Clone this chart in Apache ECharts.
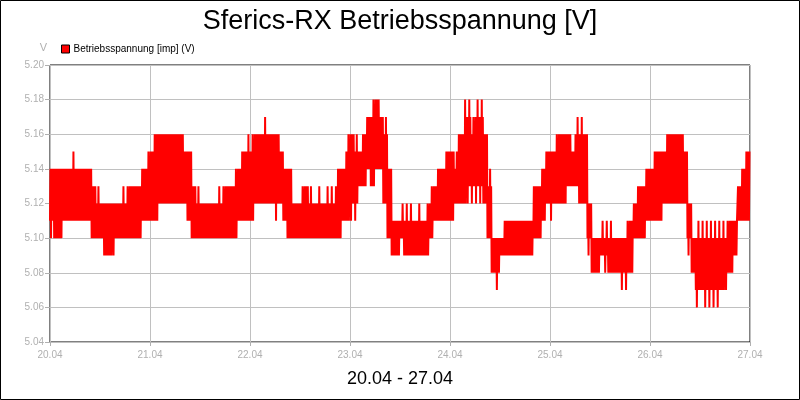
<!DOCTYPE html>
<html>
<head>
<meta charset="utf-8">
<script src="https://cdn.jsdelivr.net/npm/echarts@6/dist/echarts.min.js"></script>
<style>
  html, body { margin: 0; padding: 0; background: #fff; }
  #chart { width: 800px; height: 400px; }
</style>
</head>
<body>
<div id="chart"></div>
<script>
// tick labels on the time axis (one per day)
var dayLabels = ['20.04', '21.04', '22.04', '23.04', '24.04', '25.04', '26.04', '27.04'];

// hourly readings, 24 per day, 20.04 .. 26.04
// lo/hi = extremes in the hour, coreLo/coreHi = dense band
var lo = [
  5.10,5.10,5.10,5.11,5.11,5.11,5.11,5.11,5.11,5.11,5.10,5.10,5.10,5.09,5.09,5.09,5.10,5.10,5.10,5.10,5.10,5.10,5.11,5.11,
  5.11,5.11,5.12,5.12,5.12,5.12,5.12,5.12,5.12,5.11,5.10,5.10,5.10,5.10,5.10,5.10,5.10,5.10,5.10,5.10,5.10,5.11,5.11,5.11,
  5.11,5.12,5.12,5.12,5.12,5.12,5.11,5.12,5.11,5.10,5.10,5.10,5.10,5.10,5.10,5.10,5.10,5.10,5.10,5.10,5.10,5.10,5.11,5.11,
  5.11,5.11,5.13,5.13,5.14,5.13,5.14,5.14,5.12,5.10,5.09,5.09,5.10,5.09,5.09,5.09,5.09,5.09,5.09,5.10,5.11,5.11,5.11,5.11,
  5.11,5.12,5.12,5.12,5.12,5.12,5.12,5.12,5.12,5.10,5.08,5.07,5.09,5.09,5.09,5.09,5.09,5.09,5.09,5.09,5.10,5.10,5.11,5.12,
  5.11,5.12,5.12,5.12,5.13,5.13,5.13,5.12,5.12,5.09,5.08,5.08,5.09,5.08,5.08,5.08,5.08,5.07,5.07,5.08,5.10,5.10,5.10,5.11,
  5.11,5.11,5.11,5.12,5.12,5.12,5.12,5.12,5.12,5.09,5.08,5.06,5.07,5.06,5.06,5.06,5.06,5.07,5.07,5.08,5.09,5.11,5.11,5.11
];
var coreLo = [
  5.11,5.10,5.10,5.11,5.11,5.11,5.11,5.11,5.11,5.11,5.10,5.10,5.10,5.09,5.09,5.10,5.10,5.10,5.10,5.10,5.10,5.10,5.11,5.11,
  5.11,5.11,5.12,5.12,5.12,5.12,5.12,5.12,5.12,5.11,5.10,5.10,5.10,5.10,5.10,5.10,5.10,5.10,5.10,5.10,5.10,5.11,5.11,5.11,
  5.11,5.12,5.12,5.12,5.12,5.12,5.12,5.12,5.11,5.10,5.10,5.10,5.10,5.10,5.10,5.10,5.10,5.10,5.10,5.10,5.10,5.10,5.11,5.11,
  5.12,5.12,5.13,5.13,5.14,5.13,5.14,5.14,5.12,5.10,5.09,5.09,5.10,5.09,5.09,5.09,5.09,5.09,5.09,5.10,5.11,5.11,5.11,5.11,
  5.11,5.12,5.12,5.12,5.13,5.13,5.13,5.13,5.12,5.10,5.08,5.08,5.09,5.09,5.09,5.09,5.09,5.09,5.09,5.09,5.10,5.10,5.11,5.12,
  5.12,5.12,5.12,5.12,5.13,5.13,5.13,5.12,5.12,5.10,5.08,5.08,5.09,5.09,5.08,5.08,5.08,5.08,5.08,5.08,5.10,5.10,5.10,5.11,
  5.11,5.11,5.11,5.12,5.12,5.12,5.12,5.12,5.12,5.10,5.08,5.07,5.07,5.07,5.07,5.07,5.07,5.07,5.08,5.08,5.09,5.11,5.11,5.11
];
var coreHi = [
  5.14,5.14,5.14,5.14,5.14,5.14,5.14,5.14,5.14,5.14,5.13,5.12,5.12,5.12,5.12,5.12,5.12,5.12,5.12,5.13,5.13,5.13,5.14,5.14,
  5.15,5.16,5.16,5.16,5.16,5.16,5.16,5.16,5.15,5.15,5.13,5.12,5.12,5.12,5.12,5.12,5.12,5.12,5.13,5.13,5.13,5.14,5.15,5.15,
  5.15,5.16,5.16,5.16,5.16,5.16,5.16,5.15,5.14,5.14,5.12,5.12,5.12,5.13,5.12,5.12,5.12,5.12,5.12,5.12,5.12,5.14,5.14,5.15,
  5.16,5.15,5.15,5.16,5.17,5.17,5.18,5.17,5.16,5.14,5.11,5.11,5.11,5.11,5.11,5.11,5.11,5.11,5.11,5.12,5.13,5.14,5.14,5.15,
  5.15,5.14,5.16,5.16,5.17,5.16,5.17,5.17,5.16,5.13,5.10,5.10,5.10,5.11,5.11,5.11,5.11,5.11,5.11,5.11,5.13,5.13,5.14,5.15,
  5.15,5.15,5.16,5.16,5.16,5.15,5.16,5.16,5.16,5.12,5.10,5.10,5.10,5.10,5.10,5.10,5.10,5.10,5.10,5.11,5.12,5.13,5.13,5.14,
  5.14,5.15,5.15,5.15,5.16,5.16,5.16,5.16,5.15,5.12,5.10,5.10,5.10,5.10,5.10,5.10,5.10,5.10,5.10,5.11,5.11,5.13,5.14,5.15
];
var hi = [
  5.14,5.14,5.14,5.14,5.14,5.15,5.14,5.14,5.14,5.14,5.13,5.13,5.12,5.12,5.12,5.12,5.12,5.13,5.13,5.13,5.13,5.13,5.14,5.15,
  5.15,5.16,5.16,5.16,5.16,5.16,5.16,5.16,5.15,5.15,5.13,5.13,5.12,5.12,5.12,5.12,5.13,5.13,5.13,5.13,5.14,5.14,5.15,5.16,
  5.16,5.16,5.16,5.17,5.16,5.16,5.16,5.15,5.14,5.14,5.12,5.12,5.13,5.13,5.13,5.12,5.13,5.12,5.13,5.13,5.13,5.14,5.14,5.16,
  5.16,5.16,5.15,5.16,5.17,5.18,5.18,5.17,5.17,5.14,5.11,5.11,5.12,5.12,5.12,5.11,5.12,5.11,5.12,5.13,5.13,5.14,5.14,5.15,
  5.15,5.15,5.16,5.18,5.18,5.17,5.18,5.18,5.16,5.14,5.10,5.10,5.10,5.11,5.11,5.11,5.11,5.11,5.11,5.11,5.13,5.13,5.14,5.15,
  5.15,5.16,5.16,5.16,5.16,5.15,5.17,5.17,5.16,5.12,5.10,5.10,5.11,5.11,5.11,5.10,5.10,5.10,5.11,5.11,5.12,5.13,5.13,5.14,
  5.14,5.15,5.15,5.15,5.16,5.16,5.16,5.16,5.15,5.12,5.10,5.11,5.11,5.11,5.11,5.11,5.11,5.11,5.11,5.11,5.11,5.13,5.14,5.15
];

// within each hour the signal flickers between its levels
var points = [];
for (var i = 0; i < lo.length; i++) {
  var seq = [coreLo[i], coreHi[i], lo[i], coreHi[i], coreLo[i], hi[i], coreLo[i], coreHi[i]];
  for (var k = 0; k < seq.length; k++) {
    points.push([(i + k / seq.length) / 24, seq[k]]);
  }
}

var myChart = echarts.init(document.getElementById('chart'));
var font = 'Liberation Sans, Arial, sans-serif';

option = {
  animation: false,
  textStyle: { fontFamily: font },
  title: {
    text: 'Sferics-RX Betriebsspannung [V]',
    left: 'center',
    top: 3,
    textStyle: { fontSize: 27, fontWeight: 'normal', color: '#000', fontFamily: font }
  },
  legend: {
    left: 56,
    top: 39,
    icon: 'rect',
    itemWidth: 8,
    itemHeight: 8,
    itemGap: 4,
    textStyle: { fontSize: 10, color: '#000', fontFamily: font, padding: [0, 0, 0, -1] },
    data: [{ name: 'Betriebsspannung [imp] (V)', itemStyle: { color: '#ff0000', borderColor: '#000', borderWidth: 1 } }]
  },
  grid: {
    left: 50, right: 50, top: 65, bottom: 58,
    show: true, borderColor: '#000', borderWidth: 1
  },
  xAxis: {
    type: 'value',
    min: 0, max: 7, interval: 1,
    name: '20.04 - 27.04',
    nameLocation: 'middle',
    nameGap: 28,
    nameTextStyle: { fontSize: 18, color: '#000', fontFamily: font },
    axisLine: { show: false },
    axisTick: { show: true, length: 4, lineStyle: { color: '#b0b0b0' } },
    axisLabel: {
      color: '#b0b0b0', fontSize: 10, margin: 8, fontFamily: font,
      formatter: function (v) { return dayLabels[Math.round(v)]; }
    },
    splitLine: { show: true, lineStyle: { color: '#c0c0c0', width: 1 } }
  },
  yAxis: {
    type: 'value',
    min: 5.04, max: 5.20, interval: 0.02,
    name: 'V',
    nameLocation: 'end',
    nameGap: 12,
    nameTextStyle: { color: '#b0b0b0', fontSize: 11, align: 'right', padding: [0, 3, 0, 0], fontFamily: font },
    axisLine: { show: false },
    axisTick: { show: true, length: 5, lineStyle: { color: '#b0b0b0' } },
    axisLabel: {
      color: '#b0b0b0', fontSize: 10, margin: 6, fontFamily: font,
      formatter: function (v) { return v.toFixed(2); }
    },
    splitLine: { show: true, lineStyle: { color: '#c0c0c0', width: 1 } }
  },
  graphic: [{
    type: 'rect',
    shape: { x: 0.5, y: 0.5, width: 799, height: 399 },
    style: { fill: 'none', stroke: '#000', lineWidth: 1 },
    silent: true,
    z: 100
  }],
  series: [{
    name: 'Betriebsspannung [imp] (V)',
    type: 'line',
    data: points,
    showSymbol: false,
    sampling: null,
    color: '#ff0000',
    lineStyle: { color: '#ff0000', width: 2 }
  }]
};

myChart.setOption(option);
</script>
</body>
</html>
